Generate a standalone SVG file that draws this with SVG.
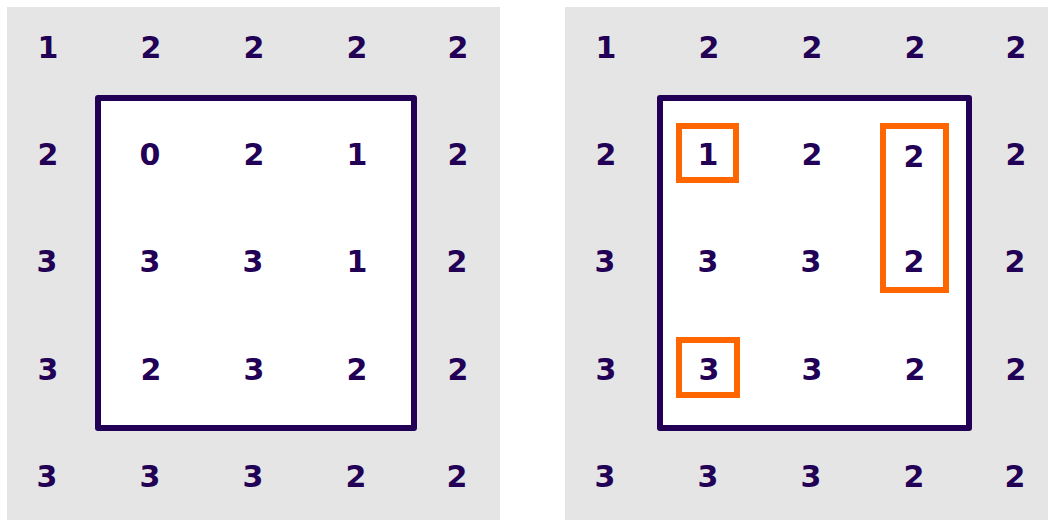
<svg xmlns="http://www.w3.org/2000/svg" width="1048" height="520" viewBox="0 0 1048 520">
<style>
.bg{fill:#e5e5e5}
.frame{fill:#ffffff;stroke:#220055;stroke-width:6;stroke-linejoin:round}
.hl{fill:none;stroke:#ff6600;stroke-width:6}
text{font-family:"DejaVu Sans",sans-serif;font-weight:bold;font-size:30px;fill:#220055;text-anchor:middle}
</style>
<g id="left-panel">
<rect class="bg" x="7" y="7" width="493" height="513"/>
<rect class="frame" x="98" y="98" width="316" height="330"/>
<text x="48" y="58">1</text><text x="151" y="58">2</text><text x="254" y="58">2</text><text x="357" y="58">2</text><text x="458" y="58">2</text>
<text x="48" y="165">2</text><text x="150" y="165">0</text><text x="254" y="165">2</text><text x="357" y="165">1</text><text x="458" y="165">2</text>
<text x="47" y="272">3</text><text x="150" y="272">3</text><text x="253" y="272">3</text><text x="357" y="272">1</text><text x="457" y="272">2</text>
<text x="48" y="380">3</text><text x="151" y="380">2</text><text x="254" y="380">3</text><text x="357" y="380">2</text><text x="458" y="380">2</text>
<text x="47" y="487">3</text><text x="150" y="487">3</text><text x="253" y="487">3</text><text x="356" y="487">2</text><text x="457" y="487">2</text>
</g>
<g id="right-panel">
<rect class="bg" x="565" y="7" width="483" height="513"/>
<rect class="frame" x="660" y="98" width="309" height="330"/>
<text x="606" y="58">1</text><text x="709" y="58">2</text><text x="812" y="58">2</text><text x="915" y="58">2</text><text x="1016" y="58">2</text>
<text x="606" y="165">2</text><text x="708" y="165">1</text><text x="812" y="165">2</text><text x="914" y="167">2</text><text x="1016" y="165">2</text>
<text x="605" y="272">3</text><text x="708" y="272">3</text><text x="811" y="272">3</text><text x="914" y="272">2</text><text x="1015" y="272">2</text>
<text x="606" y="380">3</text><text x="709" y="380">3</text><text x="812" y="380">3</text><text x="915" y="380">2</text><text x="1016" y="380">2</text>
<text x="605" y="487">3</text><text x="708" y="487">3</text><text x="811" y="487">3</text><text x="914" y="487">2</text><text x="1015" y="487">2</text>
</g>
<g id="highlights">
<rect class="hl" x="679" y="126" width="57" height="54"/>
<rect class="hl" x="883" y="126" width="63" height="164"/>
<rect class="hl" x="679" y="340" width="58" height="55"/>
</g>
</svg>
